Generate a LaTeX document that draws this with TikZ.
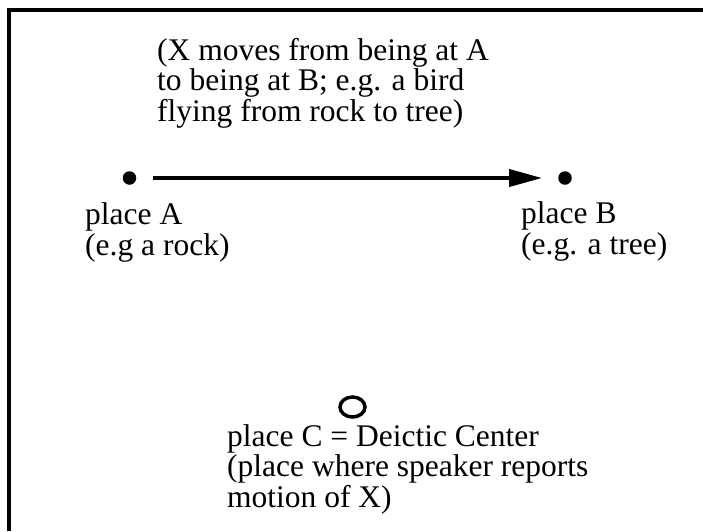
\documentclass[tikz,border=0pt]{standalone}
\usepackage{fontspec}
\setmainfont{Liberation Serif}
\usetikzlibrary{arrows.meta,shapes.geometric}
\begin{document}
\begin{tikzpicture}[x=1pt,y=-1pt,
  txt/.style={anchor=base west,align=left,inner sep=0pt,font=\fontsize{31.5}{30.5}\selectfont},
  dot/.style={circle,fill=black,inner sep=0pt,minimum size=13.5pt},
  ring/.style={ellipse,draw=black,line width=3.5pt,inner sep=0pt,minimum width=25pt,minimum height=20pt},
  frame/.style={line width=4pt}]
\useasboundingbox (0,0) rectangle (703,531);
\coordinate (fb) at (9,531);
\coordinate (fc) at (9,9.5);
\coordinate (fe) at (703,9.5);
\draw[frame] (fb) -- (fc) -- (fe);
\node[txt] (desc) at (157,121) {(X moves from being at A\\to being at B; e.g. a bird\\flying from rock to tree)};
\node[dot] (A) at (129.5,178) {};
\node[dot] (B) at (565,178) {};
\draw[line width=4pt,-{Triangle[length=33pt,width=17pt]},shorten <=17pt,shorten >=16pt] (A) -- (B);
\node[txt] (la) at (85,255) {place A\\(e.g a rock)};
\node[txt] (lb) at (521,254) {place B\\(e.g. a tree)};
\node[ring] (C) at (352.5,407) {};
\node[txt] (lc) at (227,507) {place C = Deictic Center\\(place where speaker reports\\motion of X)};
\end{tikzpicture}
\end{document}
